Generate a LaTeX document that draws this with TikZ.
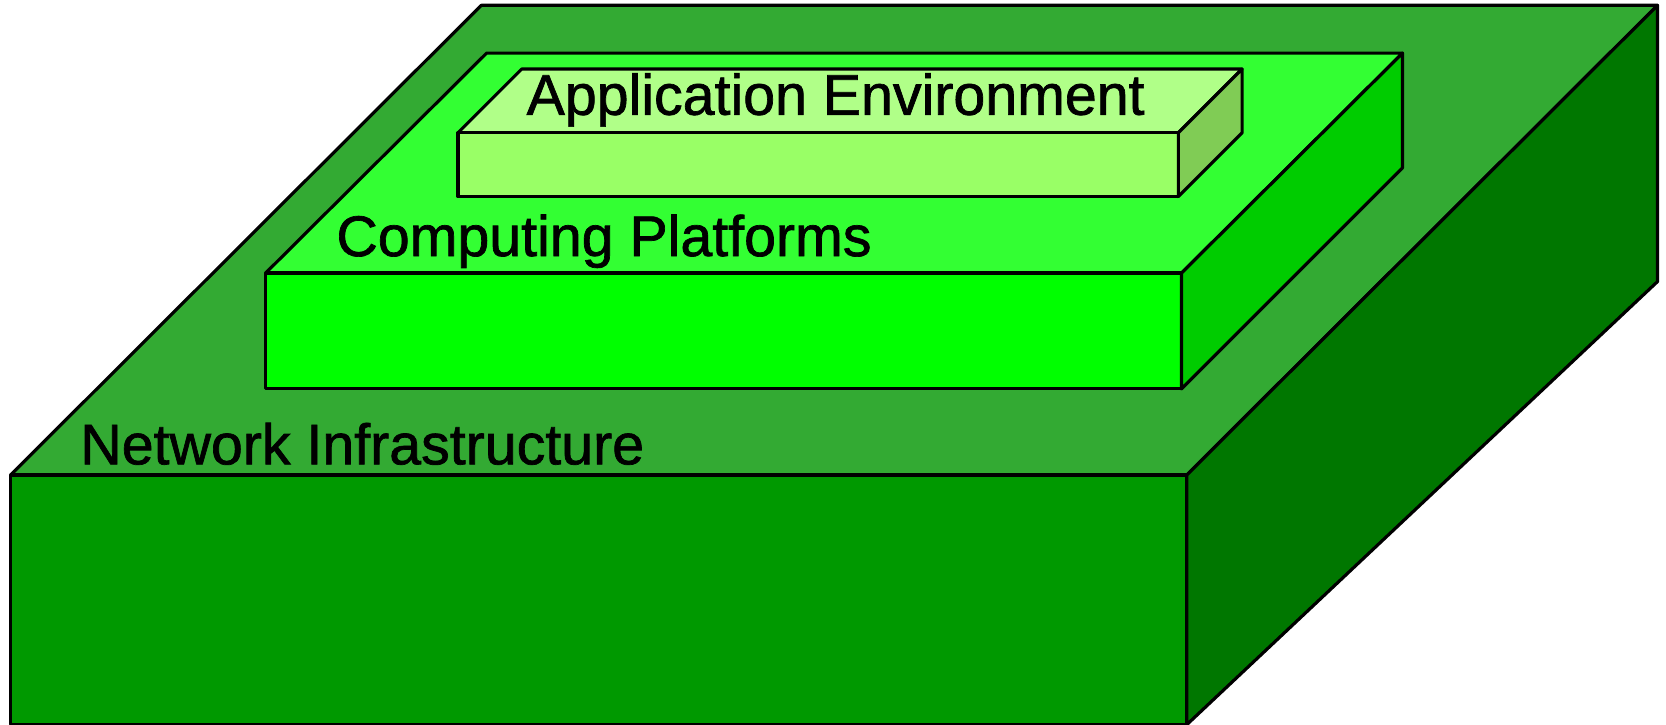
\documentclass[tikz,border=0pt]{standalone}
\usepackage{fontspec}
\setmainfont{Liberation Sans}
\definecolor{netTop}{HTML}{33AA33}
\definecolor{netFront}{HTML}{009900}
\definecolor{netSide}{HTML}{007700}
\definecolor{cpTop}{HTML}{33FF33}
\definecolor{cpFront}{HTML}{00FF00}
\definecolor{cpSide}{HTML}{00CC00}
\definecolor{aeTop}{HTML}{B0FF88}
\definecolor{aeFront}{HTML}{99FF66}
\definecolor{aeSide}{HTML}{80CC55}

\begin{document}
\begin{tikzpicture}[x=0.010625cm,y=-0.010625cm,
  face/.style={draw=black,line width=0.9pt,line join=round},
  layerlabel/.style={font=\fontsize{16.3}{18}\selectfont\addfontfeature{FakeBold=1.2},
                     anchor=base west,inner sep=0pt,text=black}
]
  \useasboundingbox (0,0) rectangle (1568,682);

  % ---- Network infrastructure (bottom slab) ------------------
  \draw[face,fill=netTop]   (10,447) -- (453,5) -- (1560,5) -- (1117,447) -- cycle;
  \draw[face,fill=netFront] (10,447) rectangle (1117,682);
  \draw[face,fill=netSide]  (1117,447) -- (1560,5) -- (1560,265) -- (1117,682) -- cycle;

  % ---- Computing platforms (middle slab) ---------------------
  \draw[face,fill=cpTop]   (250,257) -- (458,50) -- (1320,50) -- (1112,257) -- cycle;
  \draw[face,fill=cpFront] (250,257) rectangle (1112,366);
  \draw[face,fill=cpSide]  (1112,257) -- (1320,50) -- (1320,158) -- (1112,366) -- cycle;

  % ---- Application environment (top slab) --------------------
  \draw[face,fill=aeTop]   (431,125) -- (491,65) -- (1169,65) -- (1109,125) -- cycle;
  \draw[face,fill=aeFront] (431,125) rectangle (1109,185);
  \draw[face,fill=aeSide]  (1109,125) -- (1169,65) -- (1169,125) -- (1109,185) -- cycle;

  % Labels
  \node[layerlabel] (appenv)  at (495,108) {Application Environment};
  \node[layerlabel] (compplat) at (316,241) {Computing Platforms};
  \node[layerlabel] (netinfra) at (75,437)  {Network Infrastructure};

\end{tikzpicture}
\end{document}
